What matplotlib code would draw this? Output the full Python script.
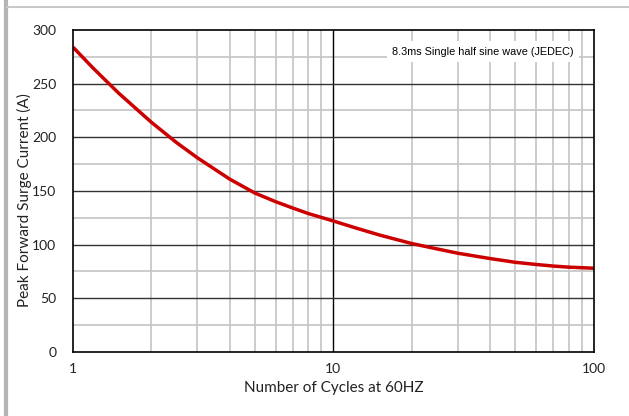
import matplotlib
matplotlib.use('Agg')
import matplotlib.pyplot as plt
from matplotlib.lines import Line2D
from matplotlib.ticker import FixedLocator, NullFormatter

# values
cycles = [1, 1.2, 1.5, 2, 2.5, 3, 4, 5, 6, 7, 8, 10, 12, 15, 20, 25, 30, 40, 50, 60, 70, 80, 100]
current = [284, 264, 241, 214, 195, 181, 161, 148, 140, 134, 129, 122, 116, 109, 101, 96, 92, 87, 83.5, 81.5, 80, 79, 78]
x_ticks = [1, 10, 100]
x_tick_labels = ['1', '10', '100']
y_ticks = [0, 50, 100, 150, 200, 250, 300]
note = '8.3ms Single half sine wave (JEDEC)'

plt.rcParams['font.family'] = ['Lato', 'DejaVu Sans']

fig = plt.figure(figsize=(6.29, 4.16), dpi=100)
ax = fig.add_axes([0.116, 0.154, 0.828, 0.774])

# page decoration: gray frame on left and top
fig.add_artist(Line2D([0.009, 0.009], [0, 1], transform=fig.transFigure, color='#b4b4b4', lw=3))
fig.add_artist(Line2D([0.011, 1], [0.983, 0.983], transform=fig.transFigure, color='#c8c8c8', lw=1.5))

ax.set_xscale('log')
ax.set_xlim(1, 100)
ax.set_ylim(0, 300)

# grid
minor_x = [m * d for d in (1, 10) for m in range(2, 10)]
for x in minor_x:
    ax.axvline(x, color='#c8c8c8', lw=1.3, zorder=1)
ax.axvline(10, color='black', lw=1.0, zorder=2)
for y in range(25, 300, 50):
    ax.axhline(y, color='#c8c8c8', lw=1.3, zorder=1)
for y in range(50, 300, 50):
    ax.axhline(y, color='#333333', lw=1.0, zorder=2)

ax.plot(cycles, current, color='#cc0000', lw=2.5, zorder=4, solid_capstyle='butt')

ax.text(0.787, 0.932, note, transform=ax.transAxes, fontsize=7.8,
        family=['Liberation Sans Narrow', 'Liberation Sans'], ha='center', va='center',
        bbox=dict(facecolor='white', edgecolor='none', pad=4), zorder=3)

ax.xaxis.set_major_locator(FixedLocator(x_ticks))
ax.set_xticklabels(x_tick_labels)
ax.xaxis.set_minor_formatter(NullFormatter())
ax.set_yticks(y_ticks)
ax.tick_params(length=0, labelsize=10, colors='#222222', pad=8)
ax.tick_params(axis='x', which='minor', length=0)
ax.tick_params(axis='y', pad=12)
for s in ax.spines.values():
    s.set_color('black')
    s.set_linewidth(1.2)
    s.set_zorder(5)

ax.set_xlabel('Number of Cycles at 60HZ', fontsize=11, color='#222222', labelpad=4)
ax.set_ylabel('Peak Forward Surge Current (A)', fontsize=11, color='#222222')
ax.yaxis.set_label_coords(-0.078, 0.472)

fig.savefig('out.png', dpi=100)
